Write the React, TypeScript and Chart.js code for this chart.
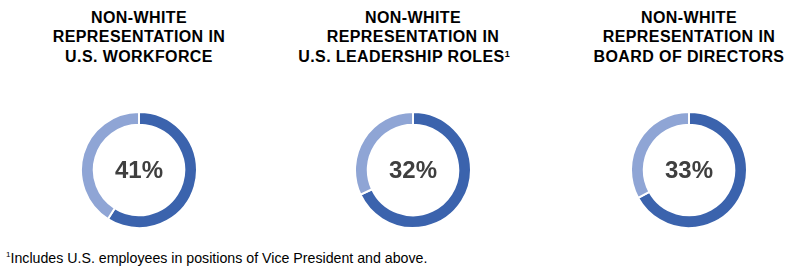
import React, { useEffect, useRef } from "react";
import { Chart, registerables } from "chart.js";

Chart.register(...registerables);

// ---- data ----
const titleLine1 = ["NON-WHITE", "NON-WHITE", "NON-WHITE"];
const titleLine2 = ["REPRESENTATION IN", "REPRESENTATION IN", "REPRESENTATION IN"];
const titleLine3 = ["U.S. WORKFORCE", "U.S. LEADERSHIP ROLES", "BOARD OF DIRECTORS"];
const titleNote = ["", "1", ""];
const segmentLabels = ["Other", "Non-white"];
const nonWhiteShare = [41, 32, 33];
const otherShare = [59, 68, 67];
const footnoteMark = "1";
const footnoteText = "Includes U.S. employees in positions of Vice President and above.";

const DARK = "#3B63AD";
const LIGHT = "#8FA5D5";
const FONT = "'Liberation Sans', Arial, Helvetica, sans-serif";

const CENTERS_X = [139, 413, 689];
const CENTER_Y = 170;
const SIZE = 118;

function Donut({ idx }: { idx: number }) {
  const ref = useRef<HTMLCanvasElement>(null);
  useEffect(() => {
    if (!ref.current) return;
    const centerText = {
      id: "centerText",
      afterDraw(chart: any) {
        const { ctx, chartArea } = chart;
        const x = (chartArea.left + chartArea.right) / 2;
        const y = (chartArea.top + chartArea.bottom) / 2;
        ctx.save();
        ctx.font = `bold 24px ${FONT}`;
        ctx.fillStyle = "#3F3F3F";
        ctx.textAlign = "center";
        ctx.textBaseline = "alphabetic";
        ctx.fillText(`${nonWhiteShare[idx]}%`, x, y + 8);
        ctx.restore();
      },
    };
    const chart = new Chart(ref.current, {
      type: "doughnut",
      data: {
        labels: segmentLabels,
        datasets: [
          {
            data: [otherShare[idx], nonWhiteShare[idx]],
            backgroundColor: [DARK, LIGHT],
            borderColor: "#ffffff",
            borderWidth: 2,
          },
        ],
      },
      options: {
        responsive: false,
        animation: false,
        cutout: "78%",
        events: [],
        layout: { padding: 0 },
        plugins: { legend: { display: false }, tooltip: { enabled: false } },
      },
      plugins: [centerText],
    });
    return () => chart.destroy();
  }, [idx]);
  return (
    <canvas
      ref={ref}
      width={SIZE}
      height={SIZE}
      style={{
        position: "absolute",
        left: CENTERS_X[idx] - SIZE / 2,
        top: CENTER_Y - SIZE / 2,
        width: SIZE,
        height: SIZE,
      }}
    />
  );
}

export default function App() {
  useEffect(() => {
    document.body.style.margin = "0";
  }, []);
  return (
    <div style={{ position: "relative", width: 792, height: 278, background: "#fff", overflow: "hidden", fontFamily: FONT }}>
      {CENTERS_X.map((cx, i) => (
        <div
          key={"t" + i}
          style={{
            position: "absolute",
            left: cx - 140,
            width: 280,
            top: 7.5,
            textAlign: "center",
            fontWeight: "bold",
            fontSize: 16,
            lineHeight: "19.5px",
            letterSpacing: "0.4px",
            color: "#000",
          }}
        >
          <div>{titleLine1[i]}</div>
          <div>{titleLine2[i]}</div>
          <div style={{ paddingRight: titleNote[i] ? 18 : 0 }}>
            {titleLine3[i]}
            {titleNote[i] ? (
              <sup style={{ fontSize: 9, letterSpacing: 0, verticalAlign: "top", lineHeight: "12px", position: "relative", top: 1 }}>{titleNote[i]}</sup>
            ) : null}
          </div>
        </div>
      ))}
      {CENTERS_X.map((_, i) => (
        <Donut key={"d" + i} idx={i} />
      ))}
      <div
        style={{
          position: "absolute",
          left: 6,
          top: 249.5,
          fontSize: 14.2,
          lineHeight: "16px",
          color: "#000",
          whiteSpace: "nowrap",
        }}
      >
        <sup style={{ fontSize: 8, verticalAlign: "top", lineHeight: "10px" }}>{footnoteMark}</sup>
        {footnoteText}
      </div>
    </div>
  );
}
